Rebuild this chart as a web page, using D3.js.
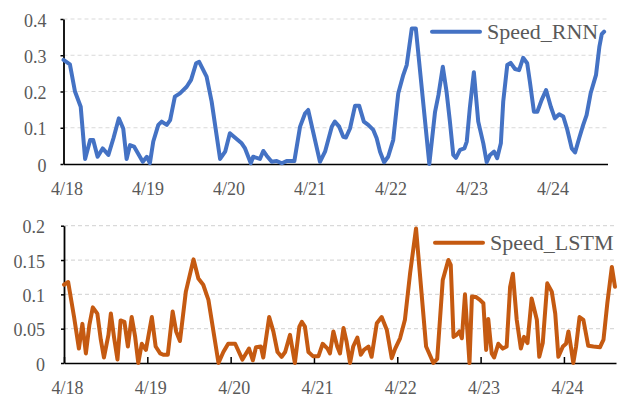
<!DOCTYPE html>
<html>
<head>
<meta charset="utf-8">
<script src="https://cdn.jsdelivr.net/npm/d3@7"></script>
<style>
  body { margin: 0; background: #fff; }
  text { font-family: "Liberation Serif", "Times New Roman", serif; fill: #595959; }
</style>
</head>
<body>
<svg id="chart" width="618" height="400"></svg>
<script>
// Day labels, placed every 24 hours from 4/18 00:00
const dayLabels = ["4/18", "4/19", "4/20", "4/21", "4/22", "4/23", "4/24"];
const dayHours = [0, 24, 48, 72, 96, 120, 144];

// Y ticks for each panel
const rnnTicks = [0, 0.1, 0.2, 0.3, 0.4];
const rnnTickLabels = ["0", "0.1", "0.2", "0.3", "0.4"];
const lstmTicks = [0, 0.05, 0.1, 0.15, 0.2];
const lstmTickLabels = ["0", "0.05", "0.1", "0.15", "0.2"];

// Speed_RNN: hours since 4/18 00:00, and speed
const rnnHours = [0, 1.9, 3.4, 5.1, 6.4, 7.9, 8.8, 10.1, 11.6, 13.3, 14.8, 16.4, 17.7, 18.7, 19.7, 20.9,
  23.5, 24.7, 25.6, 26.6, 28.1, 29.1, 30.6, 31.6, 33.0, 34.5, 36.5, 37.8, 39.3, 40.2, 42.4, 43.9,
  46.4, 47.9, 49.3, 51.3, 52.8, 53.8, 55.5, 56.2, 58.2, 59.2, 60.2, 61.7, 63.2, 64.7, 66.1, 68.4,
  70.1, 71.6, 72.5, 76.0, 77.5, 79.5, 80.4, 81.7, 82.9, 83.7, 84.9, 86.4, 87.6, 89.0, 90.3, 91.8,
  92.8, 93.8, 95.0, 96.2, 97.7, 99.2, 100.7, 101.7, 103.2, 104.4, 108.4, 110.1, 111.1, 112.4, 113.5,
  114.5, 115.5, 116.3, 117.5, 118.8, 119.5, 120.4, 121.6, 122.9, 124.4, 125.4, 126.4, 127.6, 128.5,
  129.6, 130.3, 131.5, 132.5, 133.8, 135.0, 136.2, 137.4, 138.2, 139.4, 140.4, 141.7, 143.0, 144.4,
  145.6, 146.9, 148.1, 149.3, 150.6, 151.6, 152.8, 154.0, 155.0, 156.2, 157.8, 158.8, 159.5, 160.2];
const rnnSpeed = [0.287, 0.275, 0.2, 0.158, 0.014, 0.066, 0.066, 0.02, 0.043, 0.025, 0.071, 0.126, 0.098, 0.014, 0.052, 0.048,
  0.006, 0.02, 0.002, 0.062, 0.108, 0.117, 0.108, 0.121, 0.186, 0.195, 0.213, 0.232, 0.278, 0.282, 0.241, 0.172,
  0.014, 0.034, 0.085, 0.069, 0.057, 0.043, 0.002, 0.02, 0.014, 0.036, 0.023, 0.006, 0.008, 0.002, 0.008, 0.008,
  0.103, 0.14, 0.149, 0.006, 0.034, 0.103, 0.117, 0.103, 0.075, 0.073, 0.098, 0.161, 0.161, 0.117, 0.108, 0.094,
  0.071, 0.034, 0.005, 0.02, 0.066, 0.195, 0.246, 0.273, 0.374, 0.374, 0.0, 0.144, 0.19, 0.268, 0.2,
  0.117, 0.025, 0.017, 0.039, 0.043, 0.062, 0.154, 0.253, 0.117, 0.057, 0.005, 0.025, 0.034, 0.016,
  0.057, 0.172, 0.273, 0.279, 0.262, 0.259, 0.293, 0.278, 0.227, 0.144, 0.144, 0.177, 0.204, 0.158,
  0.126, 0.137, 0.131, 0.094, 0.043, 0.032, 0.071, 0.108, 0.135, 0.195, 0.246, 0.324, 0.358, 0.365];

// Speed_LSTM: hours since 4/18 00:00, and speed
const lstmHours = [0, 1.2, 2.9, 4.3, 5.3, 6.3, 7.3, 8.3, 9.6, 10.6, 11.5, 12.8, 13.5, 14.4, 15.4, 16.3,
  17.4, 18.4, 19.5, 20.5, 21.4, 22.4, 23.6, 25.3, 26.4, 27.7, 28.6, 29.9, 31.3, 32.3, 33.4, 35.1,
  37.3, 38.7, 40.1, 41.6, 44.5, 45.9, 47.3, 49.3, 51.4, 53.3, 54.4, 55.3, 56.7, 57.4, 59.1, 60.3,
  61.5, 62.7, 63.7, 65.1, 66.5, 67.8, 68.5, 69.4, 70.4, 71.7, 73.3, 74.5, 75.9, 76.6, 77.6, 78.7,
  79.5, 80.5, 81.4, 82.4, 83.3, 84.5, 85.5, 86.4, 87.7, 88.6, 90.1, 91.5, 93.0, 94.4, 95.4, 96.8,
  98.2, 99.7, 101.4, 104.3, 106.4, 107.5, 109.1, 110.7, 111.4, 112.2, 113.1, 113.9, 114.6, 115.5,
  116.8, 117.5, 118.7, 119.8, 120.8, 121.6, 122.2, 123.2, 123.9, 125.1, 126.4, 127.5, 128.5, 129.3,
  130.4, 131.6, 132.5, 133.5, 134.7, 136.2, 136.9, 137.9, 139.2, 140.5, 141.5, 142.4, 143.7, 144.6,
  145.3, 146.0, 146.7, 147.5, 148.5, 149.6, 151.0, 152.5, 154.4, 155.4, 156.5, 157.8, 158.7];
const lstmSpeed = [0.114, 0.118, 0.067, 0.021, 0.057, 0.014, 0.055, 0.081, 0.072, 0.034, 0.008, 0.041, 0.072, 0.038, 0.005, 0.062,
  0.06, 0.024, 0.067, 0.038, 0.0, 0.028, 0.019, 0.067, 0.024, 0.014, 0.012, 0.012, 0.075, 0.046, 0.032, 0.104,
  0.151, 0.123, 0.114, 0.092, 0.0, 0.016, 0.028, 0.028, 0.005, 0.021, 0.004, 0.023, 0.024, 0.008, 0.067, 0.046,
  0.016, 0.009, 0.016, 0.041, 0.0, 0.053, 0.06, 0.053, 0.016, 0.01, 0.01, 0.028, 0.021, 0.014, 0.046, 0.024,
  0.014, 0.051, 0.031, 0.0, 0.024, 0.037, 0.012, 0.019, 0.024, 0.009, 0.058, 0.067, 0.048, 0.007, 0.021, 0.036,
  0.063, 0.131, 0.196, 0.024, 0.0, 0.006, 0.121, 0.15, 0.143, 0.038, 0.041, 0.046, 0.036, 0.1,
  0.0, 0.097, 0.096, 0.092, 0.087, 0.019, 0.064, 0.014, 0.008, 0.028, 0.021, 0.024, 0.111, 0.13,
  0.063, 0.021, 0.038, 0.029, 0.094, 0.063, 0.009, 0.029, 0.116, 0.104, 0.072, 0.009, 0.024, 0.028,
  0.046, 0.024, 0.0, 0.024, 0.067, 0.063, 0.025, 0.024, 0.023, 0.034, 0.087, 0.14, 0.111];

const svg = d3.select("#chart");

const panels = [
  {
    name: "Speed_RNN", color: "#4472C4",
    hours: rnnHours, speed: rnnSpeed,
    ticks: rnnTicks, tickLabels: rnnTickLabels, yMax: 0.4,
    left: 63.5, right: 607.5, top: 19, bottom: 164, xMax: 161.2,
    labelGap: 14, xTick: 0, legendX: 432, legendY: 31.7
  },
  {
    name: "Speed_LSTM", color: "#C55A11",
    hours: lstmHours, speed: lstmSpeed,
    ticks: lstmTicks, tickLabels: lstmTickLabels, yMax: 0.2,
    left: 64, right: 616, top: 225.7, bottom: 363, xMax: 159.0,
    labelGap: 16, xTick: -6, legendX: 435, legendY: 242.7
  }
];

panels.forEach(p => {
  const g = svg.append("g");
  const x = d3.scaleLinear().domain([0, p.xMax]).range([p.left, p.right]);
  const y = d3.scaleLinear().domain([0, p.yMax]).range([p.bottom, p.top]);

  // dashed horizontal gridlines
  g.append("g").selectAll("line")
    .data(p.ticks.filter(d => d > 0))
    .join("line")
    .attr("x1", p.left).attr("x2", p.right)
    .attr("y1", d => y(d)).attr("y2", d => y(d))
    .attr("stroke", "#d9d9d9").attr("stroke-width", 1.2)
    .attr("stroke-dasharray", "4,3");

  // y axis
  const yAxis = g.append("g")
    .attr("transform", `translate(${p.left},0)`)
    .call(d3.axisLeft(y)
      .tickValues(p.ticks)
      .tickFormat((d, i) => p.tickLabels[i])
      .tickSizeInner(3).tickSizeOuter(0)
      .tickPadding(p.labelGap));
  yAxis.select(".domain").attr("stroke", "#000").attr("stroke-width", 1.8);
  yAxis.selectAll(".tick line").attr("stroke", "#000").attr("stroke-width", 1.5);
  yAxis.selectAll(".tick text")
    .attr("font-size", 18).attr("fill", "#595959")
    .attr("font-family", "Liberation Serif, Times New Roman, serif")
    .attr("dy", "0.4em");

  // x axis with day labels
  const xAxis = g.append("g")
    .attr("transform", `translate(0,${p.bottom})`)
    .call(d3.axisBottom(x)
      .tickValues(dayHours)
      .tickFormat((d, i) => dayLabels[i])
      .tickSizeInner(p.xTick).tickSizeOuter(0)
      .tickPadding(18));
  xAxis.select(".domain").attr("stroke", "#000").attr("stroke-width", 1.5);
  xAxis.selectAll(".tick line").attr("stroke", "#000").attr("stroke-width", 1.5);
  xAxis.selectAll(".tick text")
    .attr("font-size", 18).attr("fill", "#595959")
    .attr("font-family", "Liberation Serif, Times New Roman, serif")
    .attr("dx", 3);

  // series line
  const pts = p.hours.map((h, i) => [h, p.speed[i]]);
  g.append("path")
    .datum(pts)
    .attr("fill", "none")
    .attr("stroke", p.color)
    .attr("stroke-width", 4)
    .attr("stroke-linejoin", "round")
    .attr("stroke-linecap", "round")
    .attr("d", d3.line().x(d => x(d[0])).y(d => y(d[1])));

  // legend
  const lg = g.append("g").attr("transform", `translate(${p.legendX},${p.legendY})`);
  lg.append("line")
    .attr("x1", 0).attr("x2", 48).attr("y1", 0).attr("y2", 0)
    .attr("stroke", p.color).attr("stroke-width", 4).attr("stroke-linecap", "round");
  lg.append("text")
    .attr("x", 55).attr("y", 7.5)
    .attr("font-size", 22)
    .text(p.name);
});
</script>
</body>
</html>
